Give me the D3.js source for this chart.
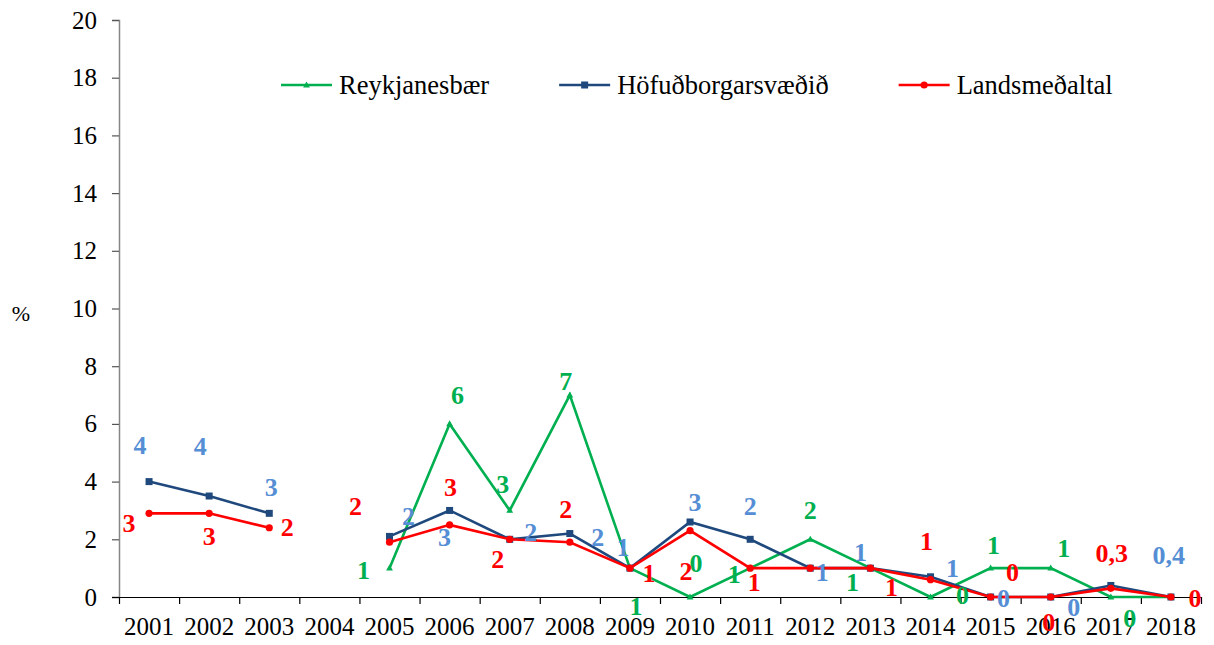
<!DOCTYPE html>
<html>
<head>
<meta charset="utf-8">
<script src="https://cdn.jsdelivr.net/npm/d3@7/dist/d3.min.js"></script>
<style>
  body { margin: 0; background: #fff; }
  svg { display: block; font-family: "Liberation Serif", "Times New Roman", serif; }
</style>
</head>
<body>
<svg id="chart" width="1214" height="645"></svg>
<script>
// data
var years = ["2001","2002","2003","2004","2005","2006","2007","2008","2009",
             "2010","2011","2012","2013","2014","2015","2016","2017","2018"];
var reykjanesbaer = [null, null, null, null, 1.0, 6.0, 3.0, 7.0, 1.0, 0, 1.0, 2.0, 1.0, 0, 1.0, 1.0, 0, 0];
var hofudborg     = [4.0, 3.5, 2.9, null, 2.1, 3.0, 2.0, 2.2, 1.0, 2.6, 2.0, 1.0, 1.0, 0.7, 0, 0, 0.4, 0];
var landsmedaltal = [2.9, 2.9, 2.4, null, 1.9, 2.5, 2.0, 1.9, 1.0, 2.3, 1.0, 1.0, 1.0, 0.6, 0, 0, 0.3, 0];
var yTicks = [0, 2, 4, 6, 8, 10, 12, 14, 16, 18, 20];

// where each data label was dragged to, relative to its point (null = no label)
var greenLabelPos = [null, null, null, null, [-26,2], [8,-28], [-7,-26], [-4,-14], [6,38], [6,-34],
                     [-16,6], [0,-29], [-18,14], [32,-2], [3,-23], [13,-20], [19,21], null];
var blueLabelPos  = [[-9,-36], [-9,-50], [2,-26], null, [19,-20], [-5,27], [21,-7], [28,4], [-7,-21], [5,-19],
                     [0,-33], [12,4], [-10,-16], [22,-8], [13,1], [23,10], [58,-30], null];
var redLabelPos   = [[-20,10], [0,23], [18,0], null, [-34,-36], [1,-37], [-12,20], [-4,-33], [19,5], [-4,41],
                     [4,14], null, [21,19], [-4,-38], [22,-25], [-2,25], [1,-35], [24,1]];

var series = [
  {name: "Reykjanesbær", values: reykjanesbaer, labels: greenLabelPos, color: "#00B050", labelColor: "#00B050", marker: "triangle"},
  {name: "Höfuðborgarsvæðið", values: hofudborg, labels: blueLabelPos, color: "#1F497D", labelColor: "#558ED5", marker: "square"},
  {name: "Landsmeðaltal", values: landsmedaltal, labels: redLabelPos, color: "#FF0000", labelColor: "#FF0000", marker: "circle"}
];

var LEFT = 119, RIGHT = 1201, TOP = 20, BOTTOM = 597;

var svg = d3.select("#chart");

var x = d3.scaleBand().domain(years).range([LEFT, RIGHT]);
var xEdge = d3.scaleLinear().domain([0, years.length]).range([LEFT, RIGHT]);
var y = d3.scaleLinear().domain([0, 20]).range([BOTTOM, TOP]);

function fmt(v) {
  if (v > 0 && v < 0.5) return d3.format(".1f")(v).replace(".", ",");
  return String(Math.round(v));
}

// y axis
var gy = svg.append("g")
  .attr("transform", "translate(" + LEFT + ",0)")
  .call(d3.axisLeft(y).tickValues(yTicks).tickSize(7).tickPadding(15).tickFormat(d3.format("d")));
gy.select(".domain").attr("stroke", "#868686").attr("stroke-width", 1.5);
gy.selectAll(".tick line").attr("stroke", "#555").attr("stroke-width", 1.2);
gy.selectAll(".tick text").attr("font-size", 25).attr("font-family", "Liberation Serif").attr("fill", "#000");

svg.append("text")
  .attr("x", 21).attr("y", 313)
  .attr("text-anchor", "middle").attr("dominant-baseline", "central")
  .attr("font-size", 22)
  .text("%");

// x axis: ticks on category edges, labels in the middle
var gxTicks = svg.append("g")
  .attr("transform", "translate(0," + BOTTOM + ")")
  .call(d3.axisBottom(xEdge).tickValues(d3.range(years.length + 1)).tickSize(7).tickFormat(""));
gxTicks.select(".domain").attr("stroke", "#000").attr("stroke-width", 1.2)
  .attr("d", "M" + (LEFT - 7) + ",0.5H" + RIGHT);
gxTicks.selectAll(".tick line").attr("stroke", "#000").attr("stroke-width", 1.2);

var gx = svg.append("g")
  .attr("transform", "translate(0," + BOTTOM + ")")
  .call(d3.axisBottom(x).tickSize(0).tickPadding(20));
gx.select(".domain").remove();
gx.selectAll(".tick text").attr("font-size", 25).attr("font-family", "Liberation Serif").attr("fill", "#000");

// lines
var line = d3.line()
  .defined(function(d) { return d.v != null; })
  .x(function(d) { return x(d.year) + x.bandwidth() / 2; })
  .y(function(d) { return y(d.v); });

function points(s) {
  return s.values.map(function(v, i) { return {year: years[i], v: v, i: i, lab: s.labels[i]}; });
}

function drawMarker(g, type, color) {
  if (type === "square") {
    g.append("rect").attr("x", -3.5).attr("y", -3.5).attr("width", 7).attr("height", 7).attr("fill", color);
  } else if (type === "circle") {
    g.append("circle").attr("r", 3.6).attr("fill", color);
  } else {
    g.append("path").attr("d", "M0,-3.6L3.4,2.4L-3.4,2.4Z").attr("fill", color);
  }
}

series.forEach(function(s) {
  var pts = points(s);
  var g = svg.append("g");
  g.append("path")
    .datum(pts)
    .attr("fill", "none")
    .attr("stroke", s.color)
    .attr("stroke-width", 2.6)
    .attr("stroke-linejoin", "miter")
    .attr("d", line);
  g.selectAll(".mk")
    .data(pts.filter(function(d) { return d.v != null; }))
    .enter()
    .append("g")
    .attr("class", "mk")
    .attr("transform", function(d) { return "translate(" + (x(d.year) + x.bandwidth() / 2) + "," + y(d.v) + ")"; })
    .each(function() { drawMarker(d3.select(this), s.marker, s.color); });
});

// data labels on top
series.forEach(function(s) {
  svg.append("g").selectAll("text")
    .data(points(s).filter(function(d) { return d.v != null && d.lab; }))
    .enter()
    .append("text")
    .attr("x", function(d) { return x(d.year) + x.bandwidth() / 2 + d.lab[0]; })
    .attr("y", function(d) { return y(d.v) + d.lab[1]; })
    .attr("text-anchor", "middle")
    .attr("dominant-baseline", "central")
    .attr("font-size", 26)
    .attr("font-weight", "bold")
    .attr("fill", s.labelColor)
    .text(function(d) { return fmt(d.v); });
});

// legend
var legend = svg.append("g").attr("transform", "translate(281,85)");
var lx = 0;
series.forEach(function(s) {
  var item = legend.append("g").attr("transform", "translate(" + lx + ",0)");
  item.append("line").attr("x1", 0).attr("x2", 51).attr("y1", 0).attr("y2", 0)
    .attr("stroke", s.color).attr("stroke-width", 2.6);
  var m = item.append("g").attr("transform", "translate(25.5,0)");
  drawMarker(m, s.marker, s.color);
  var t = item.append("text")
    .attr("x", 58).attr("y", 0)
    .attr("dominant-baseline", "central")
    .attr("font-size", 26.5)
    .text(s.name);
  lx += 58 + t.node().getComputedTextLength() + 70;
});
</script>
</body>
</html>
